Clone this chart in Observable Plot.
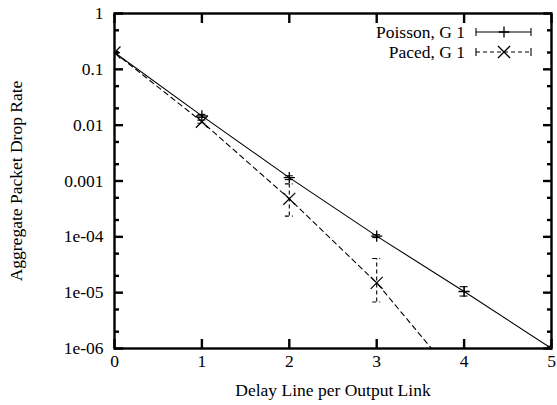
<!DOCTYPE html>
<html>
<head>
<meta charset="utf-8">
<script src="https://cdn.jsdelivr.net/npm/d3@7"></script>
<script src="https://cdn.jsdelivr.net/npm/@observablehq/plot@0.6"></script>
<style>
  html, body { margin: 0; padding: 0; background: #fff; }
  #wrap { position: relative; width: 557px; height: 405px; font-family: "Liberation Serif", "Times New Roman", serif; }
  #legend { position: absolute; left: 0; top: 0; }
</style>
</head>
<body>
<div id="wrap"></div>
<script>
// ---- data ----
const delays = [0, 1, 2, 3, 4, 5];
const poissonRate = [0.2, 0.0147, 0.00115, 1.03e-4, 1.05e-5, 1.0e-6];
const poissonLow  = [0.19, 0.0138, 0.00106, 0.97e-4, 0.87e-5, 0.9e-6];
const poissonHigh = [0.21, 0.0156, 0.00124, 1.09e-4, 1.28e-5, 1.1e-6];

const pacedDelays = [0, 1, 2, 3, 4];
const pacedRate = [0.2, 0.0115, 4.8e-4, 1.5e-5, 2.0e-7];
const pacedLow  = [0.19, 0.0108, 2.35e-4, 6.8e-6, 1.9e-7];
const pacedHigh = [0.21, 0.0123, 8.9e-4, 4.1e-5, 2.1e-7];

const seriesNames = ["Poisson, G 1", "Paced, G 1"];
const xTicks = [0, 1, 2, 3, 4, 5];
const yTicks = [1, 0.1, 0.01, 0.001, 1e-4, 1e-5, 1e-6];
const yTickLabels = ["1", "0.1", "0.01", "0.001", "1e-04", "1e-05", "1e-06"];
const yMinorTicks = [5e-1, 2e-1, 5e-2, 2e-2, 5e-3, 2e-3, 5e-4, 2e-4, 5e-5, 2e-5, 5e-6, 2e-6];
const xTitle = "Delay Line per Output Link";
const yTitle = "Aggregate Packet Drop Rate";

// ---- tables ----
const poisson = delays.map((d, i) => ({x: d, y: poissonRate[i], lo: poissonLow[i], hi: poissonHigh[i]}));
const paced = pacedDelays.map((d, i) => ({x: d, y: pacedRate[i], lo: pacedLow[i], hi: pacedHigh[i]}));
const yLabelOf = d => yTickLabels[yTicks.indexOf(d)];

const capW = 0.045;
const dash = "5,4";
const FONT = "'Liberation Serif', 'Times New Roman', serif";

const chart = Plot.plot({
  width: 557,
  height: 405,
  marginLeft: 114,
  marginRight: 6,
  marginTop: 13,
  marginBottom: 57,
  style: {fontFamily: FONT, fontSize: "17.5px", color: "black", background: "white"},
  x: {domain: [0, 5]},
  y: {type: "log", domain: [1e-6, 1]},
  marks: [
    // data lines
    Plot.line(poisson, {x: "x", y: "y", stroke: "black", strokeWidth: 1.1, clip: true}),
    Plot.line(paced, {x: "x", y: "y", stroke: "black", strokeWidth: 1.1, strokeDasharray: dash, clip: true}),
    // error bars
    Plot.ruleX(poisson, {x: "x", y1: "lo", y2: "hi", stroke: "black", strokeWidth: 1.1, clip: true}),
    Plot.ruleY(poisson, {y: "lo", x1: d => d.x - capW, x2: d => d.x + capW, stroke: "black", strokeWidth: 1.1, clip: true}),
    Plot.ruleY(poisson, {y: "hi", x1: d => d.x - capW, x2: d => d.x + capW, stroke: "black", strokeWidth: 1.1, clip: true}),
    Plot.ruleX(paced, {x: "x", y1: "lo", y2: "hi", stroke: "black", strokeWidth: 1.1, strokeDasharray: "4,3", clip: true}),
    Plot.ruleY(paced, {y: "lo", x1: d => d.x - capW, x2: d => d.x + capW, stroke: "black", strokeWidth: 1.1, strokeDasharray: "4,3", clip: true}),
    Plot.ruleY(paced, {y: "hi", x1: d => d.x - capW, x2: d => d.x + capW, stroke: "black", strokeWidth: 1.1, strokeDasharray: "4,3", clip: true}),
    // markers
    Plot.dot(poisson, {x: "x", y: "y", symbol: "plus", r: 3.7, stroke: "black", strokeWidth: 1.3, clip: true}),
    Plot.dot(paced, {x: "x", y: "y", symbol: "times", r: 5.5, stroke: "black", strokeWidth: 1.2, clip: true}),
    // inward ticks
    Plot.axisX(xTicks, {anchor: "bottom", tickSize: -9, strokeWidth: 2.4, tickFormat: () => "", label: null}),
    Plot.axisX(xTicks, {anchor: "top", tickSize: -9, strokeWidth: 2.4, tickFormat: () => "", label: null}),
    Plot.axisY(yTicks, {anchor: "left", tickSize: -9, strokeWidth: 2.4, tickFormat: () => "", label: null}),
    Plot.axisY(yTicks, {anchor: "right", tickSize: -9, strokeWidth: 2.4, tickFormat: () => "", label: null}),
    Plot.axisY(yMinorTicks, {anchor: "left", tickSize: -5, strokeWidth: 2.4, tickFormat: () => "", label: null}),
    Plot.axisY(yMinorTicks, {anchor: "right", tickSize: -5, strokeWidth: 2.4, tickFormat: () => "", label: null}),
    // tick labels and titles
    Plot.axisX(xTicks, {anchor: "bottom", tickSize: 0, tickPadding: 6, tickFormat: d => String(d), fill: "black",
      label: xTitle, labelAnchor: "center", labelArrow: "none", labelOffset: 47}),
    Plot.axisY(yTicks, {anchor: "left", tickSize: 0, tickPadding: 11, tickFormat: yLabelOf, fill: "black",
      label: yTitle, labelAnchor: "center", labelArrow: "none", labelOffset: 105}),
    Plot.frame({stroke: "black", strokeWidth: 2.4})
  ]
});

const wrap = document.getElementById("wrap");
wrap.appendChild(chart);

// ---- legend overlay ----
const leg = d3.select(wrap).append("svg").attr("id", "legend")
  .attr("width", 557).attr("height", 70)
  .style("font-family", FONT)
  .style("font-size", "17.5px");
const rows = [
  {name: seriesNames[0], y: 32, dash: null, symbol: d3.symbolPlus, size: 41},
  {name: seriesNames[1], y: 52, dash: "4,3", symbol: d3.symbolTimes, size: 96}
];
rows.forEach(r => {
  leg.append("text").attr("x", 465).attr("y", r.y).attr("dy", "0.32em")
    .attr("text-anchor", "end").attr("fill", "black").text(r.name);
  const g = leg.append("g").attr("stroke", "black").attr("stroke-width", 1.1).attr("fill", "none");
  g.append("line").attr("x1", 476).attr("x2", 531).attr("y1", r.y).attr("y2", r.y).attr("stroke-dasharray", r.dash);
  g.append("line").attr("x1", 476).attr("x2", 476).attr("y1", r.y - 4).attr("y2", r.y + 4);
  g.append("line").attr("x1", 531).attr("x2", 531).attr("y1", r.y - 4).attr("y2", r.y + 4);
  g.append("path").attr("transform", `translate(504,${r.y})`).attr("stroke-width", 1.3)
    .attr("d", d3.symbol(r.symbol, r.size)());
});
</script>
</body>
</html>
